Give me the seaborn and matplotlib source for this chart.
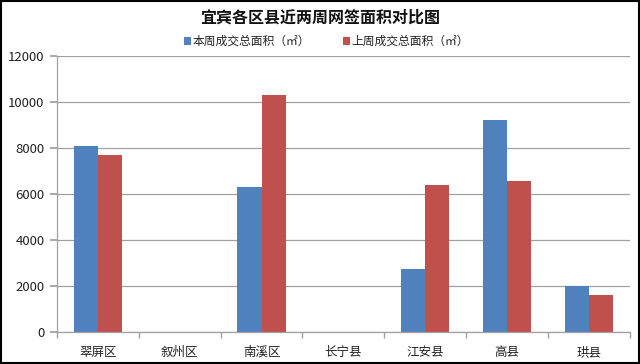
import matplotlib
matplotlib.use("Agg")
import matplotlib.pyplot as plt
import seaborn as sns
import pandas as pd
import numpy as np
from matplotlib.patches import Rectangle

categories = ["翠屏区", "叙州区", "南溪区", "长宁县", "江安县", "高县", "珙县"]
this_week = [8100, 0, 6300, 0, 2740, 9200, 2000]
last_week = [7700, 0, 10300, 0, 6380, 6570, 1610]
series_names = ["本周成交总面积（㎡）", "上周成交总面积（㎡）"]
colors = ["#4F81BD", "#C0504D"]
yticks = [0, 2000, 4000, 6000, 8000, 10000, 12000]

sns.set_theme(style="white")
plt.rcParams['font.family'] = ['Noto Sans CJK SC', 'DejaVu Sans']

df = pd.DataFrame({
    "cat": categories * 2,
    "val": this_week + last_week,
    "series": [series_names[0]] * len(categories) + [series_names[1]] * len(categories),
})

fig = plt.figure(figsize=(6.4, 3.64), dpi=100)
ax = fig.add_axes([0.089, 0.088, 0.895, 0.758])
sns.barplot(data=df, x="cat", y="val", hue="series", palette=colors, width=0.59,
            saturation=1, ax=ax, legend=False, edgecolor="none")

ax.set_ylim(0, 12000)
ax.set_xlim(-0.5, len(categories) - 0.5)
ax.set_yticks(yticks)
ax.set_yticklabels([str(v) for v in yticks], fontsize=9.5, color="#222222")
ax.yaxis.grid(True, color="#A0A0A0", linewidth=0.9)
ax.set_axisbelow(True)
ax.set_xlabel("")
ax.set_ylabel("")
for s in ["top", "right"]:
    ax.spines[s].set_visible(False)
for s in ["left", "bottom"]:
    ax.spines[s].set_color("#A0A0A0")
    ax.spines[s].set_linewidth(0.9)
ax.tick_params(axis="y", which="major", length=5, color="#A0A0A0", direction="out", left=True, pad=4)
ax.set_xticks(range(len(categories)))
ax.set_xticklabels(categories, fontsize=9, color="#222222")
ax.tick_params(axis="x", which="major", length=0, pad=10)
ax.set_xticks(np.arange(-0.5, len(categories), 1.0), minor=True)
ax.tick_params(axis="x", which="minor", length=4, color="#A0A0A0", direction="out", bottom=True)

fig.text(0.5, 0.952, "宜宾各区县近两周网签面积对比图", ha="center", va="center",
         fontsize=11.5, fontweight="bold", color="#111111")

# legend
lx = [0.288, 0.536]
for i, name in enumerate(series_names):
    fig.patches.append(Rectangle((lx[i], 0.877), 0.011, 0.02, transform=fig.transFigure,
                                 facecolor=colors[i], edgecolor="none"))
    fig.text(lx[i] + 0.013, 0.887, name, ha="left", va="center", fontsize=8.5, color="#222222")

fig.patches.append(Rectangle((0.002, 0.003), 0.996, 0.994, transform=fig.transFigure,
                             facecolor="none", edgecolor="black", linewidth=1.5))

fig.savefig("out.png", dpi=100)
